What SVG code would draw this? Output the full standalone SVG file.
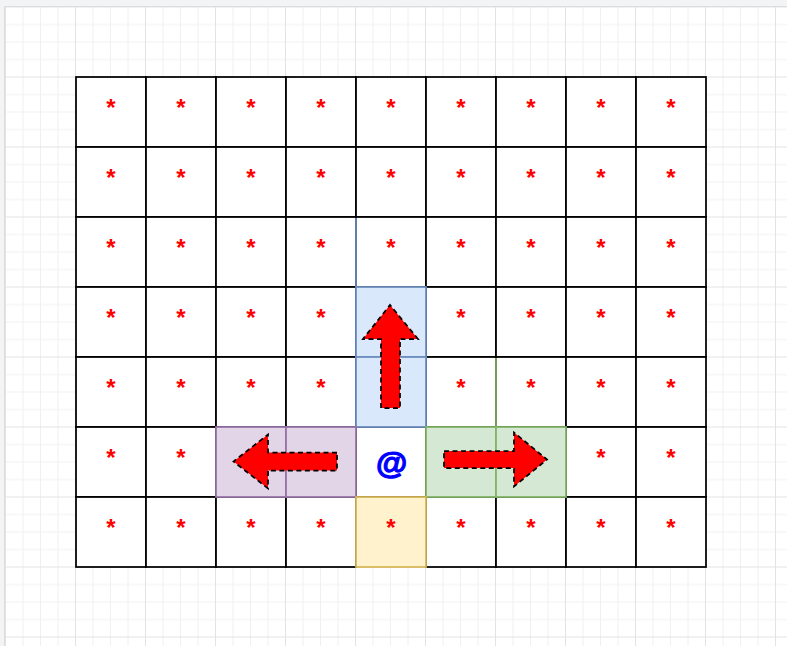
<svg xmlns="http://www.w3.org/2000/svg" width="787" height="646" viewBox="0 0 787 646">
<style>
.cell{fill:#ffffff;stroke:#000000;stroke-width:1.75}
.blue{fill:#dae8fc;stroke:#6c8ebf;stroke-width:1.75}
.purple{fill:#e1d5e7;stroke:#9673a6;stroke-width:1.75}
.green{fill:#d5e8d4;stroke:#82b366;stroke-width:1.75}
.yellow{fill:#fff2cc;stroke:#d6b656;stroke-width:1.75}
.star{font-family:"Liberation Sans",Arial,sans-serif;font-size:24px;font-weight:700;fill:#ff0000;text-anchor:middle}
.at{font-family:"Liberation Sans",Arial,sans-serif;font-size:32px;font-weight:700;fill:#0000ff;stroke:#0000ff;stroke-width:1.2;text-anchor:middle}
.arrow{fill:#ff0000;stroke:#000000;stroke-width:1.75;stroke-dasharray:5 3.5;stroke-linejoin:miter}
</style>
<defs>
<pattern id="grid" patternUnits="userSpaceOnUse" x="5" y="6.5" width="70" height="70">
<path d="M18 0V70M35.5 0V70M53 0V70M0 18H70M0 35.5H70M0 53H70" stroke="#f0f0f0" stroke-width="1" fill="none"/>
<path d="M0.5 0V70M0 0.5H70" stroke="#e3e3e3" stroke-width="1" fill="none"/>
</pattern>
</defs>
<rect x="0" y="0" width="787" height="646" fill="#f3f4f6"/>
<rect x="4.5" y="6.5" width="783" height="640" fill="#ffffff" stroke="#dddddd" stroke-width="1"/>
<rect x="5" y="7" width="782" height="639" fill="url(#grid)"/>
<g id="board">
<g id="r0">
<rect class="cell" x="76" y="77" width="70" height="70"/><rect class="cell" x="146" y="77" width="70" height="70"/><rect class="cell" x="216" y="77" width="70" height="70"/><rect class="cell" x="286" y="77" width="70" height="70"/><rect class="cell" x="356" y="77" width="70" height="70"/><rect class="cell" x="426" y="77" width="70" height="70"/><rect class="cell" x="496" y="77" width="70" height="70"/><rect class="cell" x="566" y="77" width="70" height="70"/><rect class="cell" x="636" y="77" width="70" height="70"/>
</g>
<g id="r1">
<rect class="cell" x="76" y="147" width="70" height="70"/><rect class="cell" x="146" y="147" width="70" height="70"/><rect class="cell" x="216" y="147" width="70" height="70"/><rect class="cell" x="286" y="147" width="70" height="70"/><rect class="cell" x="356" y="147" width="70" height="70"/><rect class="cell" x="426" y="147" width="70" height="70"/><rect class="cell" x="496" y="147" width="70" height="70"/><rect class="cell" x="566" y="147" width="70" height="70"/><rect class="cell" x="636" y="147" width="70" height="70"/>
</g>
<g id="r2">
<rect class="cell" x="76" y="217" width="70" height="70"/><rect class="cell" x="146" y="217" width="70" height="70"/><rect class="cell" x="216" y="217" width="70" height="70"/><rect class="cell" x="286" y="217" width="70" height="70"/><rect class="cell" x="356" y="217" width="70" height="70"/><rect class="cell" x="426" y="217" width="70" height="70"/><rect class="cell" x="496" y="217" width="70" height="70"/><rect class="cell" x="566" y="217" width="70" height="70"/><rect class="cell" x="636" y="217" width="70" height="70"/>
</g>
<g id="r3">
<rect class="cell" x="76" y="287" width="70" height="70"/><rect class="cell" x="146" y="287" width="70" height="70"/><rect class="cell" x="216" y="287" width="70" height="70"/><rect class="cell" x="286" y="287" width="70" height="70"/><rect class="cell" x="426" y="287" width="70" height="70"/><rect class="cell" x="496" y="287" width="70" height="70"/><rect class="cell" x="566" y="287" width="70" height="70"/><rect class="cell" x="636" y="287" width="70" height="70"/>
</g>
<g id="r4">
<rect class="cell" x="76" y="357" width="70" height="70"/><rect class="cell" x="146" y="357" width="70" height="70"/><rect class="cell" x="216" y="357" width="70" height="70"/><rect class="cell" x="286" y="357" width="70" height="70"/><rect class="cell" x="426" y="357" width="70" height="70"/><rect class="cell" x="496" y="357" width="70" height="70"/><rect class="cell" x="566" y="357" width="70" height="70"/><rect class="cell" x="636" y="357" width="70" height="70"/>
</g>
<g id="r5">
<rect class="cell" x="76" y="427" width="70" height="70"/><rect class="cell" x="146" y="427" width="70" height="70"/><rect class="cell" x="356" y="427" width="70" height="70"/><rect class="cell" x="566" y="427" width="70" height="70"/><rect class="cell" x="636" y="427" width="70" height="70"/>
</g>
<g id="r6">
<rect class="cell" x="76" y="497" width="70" height="70"/><rect class="cell" x="146" y="497" width="70" height="70"/><rect class="cell" x="216" y="497" width="70" height="70"/><rect class="cell" x="286" y="497" width="70" height="70"/><rect class="cell" x="426" y="497" width="70" height="70"/><rect class="cell" x="496" y="497" width="70" height="70"/><rect class="cell" x="566" y="497" width="70" height="70"/><rect class="cell" x="636" y="497" width="70" height="70"/>
</g>
<g id="colored">
<rect class="blue" x="356" y="287" width="70" height="70"/>
<rect class="blue" x="356" y="357" width="70" height="70"/>
<rect class="purple" x="216" y="427" width="70" height="70"/>
<rect class="purple" x="286" y="427" width="70" height="70"/>
<rect class="green" x="426" y="427" width="70" height="70"/>
<rect class="green" x="496" y="427" width="70" height="70"/>
<rect class="yellow" x="356" y="497" width="70" height="70"/>
<line x1="356" y1="218" x2="356" y2="287" stroke="#6c8ebf" stroke-width="1.75"/>
<line x1="496" y1="358" x2="496" y2="427" stroke="#82b366" stroke-width="1.75"/>
</g>
</g>
<g id="stars">
<text class="star" x="111" y="116">*</text><text class="star" x="181" y="116">*</text><text class="star" x="251" y="116">*</text><text class="star" x="321" y="116">*</text><text class="star" x="391" y="116">*</text><text class="star" x="461" y="116">*</text><text class="star" x="531" y="116">*</text><text class="star" x="601" y="116">*</text><text class="star" x="671" y="116">*</text>
<text class="star" x="111" y="186">*</text><text class="star" x="181" y="186">*</text><text class="star" x="251" y="186">*</text><text class="star" x="321" y="186">*</text><text class="star" x="391" y="186">*</text><text class="star" x="461" y="186">*</text><text class="star" x="531" y="186">*</text><text class="star" x="601" y="186">*</text><text class="star" x="671" y="186">*</text>
<text class="star" x="111" y="256">*</text><text class="star" x="181" y="256">*</text><text class="star" x="251" y="256">*</text><text class="star" x="321" y="256">*</text><text class="star" x="391" y="256">*</text><text class="star" x="461" y="256">*</text><text class="star" x="531" y="256">*</text><text class="star" x="601" y="256">*</text><text class="star" x="671" y="256">*</text>
<text class="star" x="111" y="326">*</text><text class="star" x="181" y="326">*</text><text class="star" x="251" y="326">*</text><text class="star" x="321" y="326">*</text><text class="star" x="461" y="326">*</text><text class="star" x="531" y="326">*</text><text class="star" x="601" y="326">*</text><text class="star" x="671" y="326">*</text>
<text class="star" x="111" y="396">*</text><text class="star" x="181" y="396">*</text><text class="star" x="251" y="396">*</text><text class="star" x="321" y="396">*</text><text class="star" x="461" y="396">*</text><text class="star" x="531" y="396">*</text><text class="star" x="601" y="396">*</text><text class="star" x="671" y="396">*</text>
<text class="star" x="111" y="466">*</text><text class="star" x="181" y="466">*</text><text class="star" x="601" y="466">*</text><text class="star" x="671" y="466">*</text>
<text class="star" x="111" y="536">*</text><text class="star" x="181" y="536">*</text><text class="star" x="251" y="536">*</text><text class="star" x="321" y="536">*</text><text class="star" x="391" y="536">*</text><text class="star" x="461" y="536">*</text><text class="star" x="531" y="536">*</text><text class="star" x="601" y="536">*</text><text class="star" x="671" y="536">*</text>
</g>
<g id="player"><text class="at" x="391.5" y="474">@</text></g>
<g id="arrows">
<path id="arrow-up" class="arrow" d="M381 408V339H363L390 305L418 339H400V408Z"/>
<path id="arrow-left" class="arrow" d="M337 452.5H268V434.5L233.5 461.5L268 488.5V470.5H337Z"/>
<path id="arrow-right" class="arrow" d="M444 451H514V432.5L547 459.5L514 486.5V468H444Z"/>
</g>
</svg>
